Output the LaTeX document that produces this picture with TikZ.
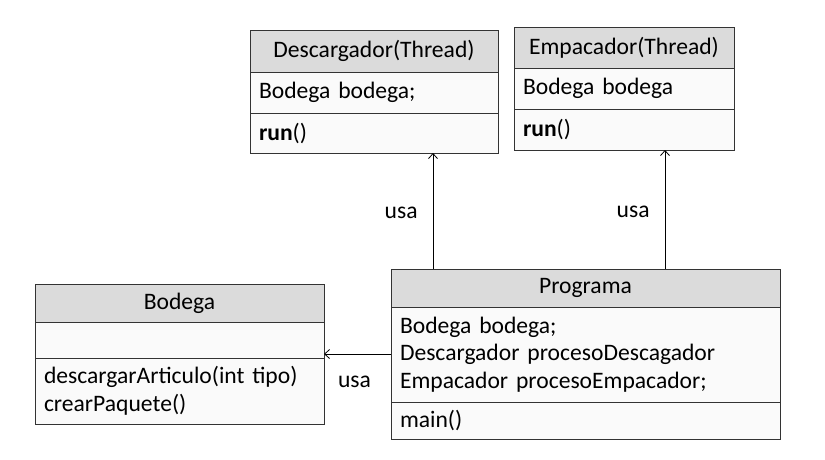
\documentclass[tikz,border=0pt]{standalone}
\usepackage{fontspec}
\setmainfont{Carlito}
\usetikzlibrary{positioning, arrows.meta}

\tikzset{
  cls/.style={draw=black!80, line width=0.9pt, inner xsep=9pt, inner ysep=0pt, outer sep=0pt,
    font=\fontsize{23.6}{27.5}\selectfont},
  clshead/.style={cls, fill=gray!28, align=center, minimum width=#1},
  clsbody/.style={cls, fill=gray!4, align=left, text width=#1},
  usa/.style={draw=black, line width=0.8pt, -{Straight Barb[length=5pt, width=9pt]}},
  usalabel/.style={font=\fontsize{23.6}{26}\selectfont, inner sep=0pt}
}

\begin{document}
\begin{tikzpicture}[x=1pt, y=-1pt]
\useasboundingbox (0,0) rectangle (825,459);

% Descargador
\node[clshead=248pt, minimum height=42pt, anchor=north west] (descH) at (250,30) {Descargador(Thread)};
\node[clsbody=230pt, minimum height=41pt, below=0pt of descH] (descA) {Bodega bodega;};
\node[clsbody=230pt, minimum height=40pt, below=0pt of descA] (descM) {\textbf{run}()};

% Empacador
\node[clshead=220pt, minimum height=41pt, anchor=north west] (empH) at (514,27) {Empacador(Thread)};
\node[clsbody=202pt, minimum height=41pt, below=0pt of empH] (empA) {Bodega bodega};
\node[clsbody=202pt, minimum height=41pt, below=0pt of empA] (empM) {\textbf{run}()};

% Bodega
\node[clshead=289pt, minimum height=38pt, anchor=north west] (bodH) at (35,284) {Bodega};
\node[clsbody=271pt, minimum height=36pt, below=0pt of bodH] (bodA) {};
\node[clsbody=271pt, minimum height=66pt, below=0pt of bodA] (bodM) {descargarArticulo(int tipo)\\crearPaquete()};

% Programa
\node[clshead=389pt, minimum height=38pt, anchor=north west] (progH) at (391,269) {Programa};
\node[clsbody=371pt, minimum height=95pt, below=0pt of progH] (progA) {Bodega bodega;\\Descargador procesoDescagador\\Empacador procesoEmpacador;};
\node[clsbody=371pt, minimum height=37pt, below=0pt of progA] (progM) {main()};

% usa
\draw[usa] ([xshift=42pt]progH.north west) -- ([xshift=42pt]progH.north west |- descM.south)
  node[midway, left=15pt, yshift=-2pt, usalabel] (usa1) {usa};
\draw[usa] ([xshift=274pt]progH.north west) -- ([xshift=274pt]progH.north west |- empM.south)
  node[midway, left=15pt, yshift=-2pt, usalabel] (usa2) {usa};
\draw[usa] (progA.west |- bodM.north) ++(0,-4) coordinate (pa) -- (pa -| bodM.east)
  node[midway, below=22pt, xshift=-3pt, usalabel] (usa3) {usa};
\end{tikzpicture}
\end{document}
